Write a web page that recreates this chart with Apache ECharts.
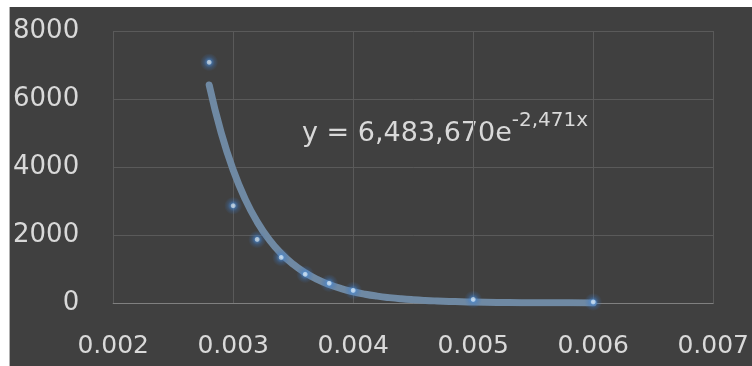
<!DOCTYPE html>
<html>
<head>
<meta charset="utf-8">
<script src="https://cdn.jsdelivr.net/npm/echarts@6/dist/echarts.min.js"></script>
<style>
html,body{margin:0;padding:0;background:#ffffff;width:752px;height:366px;overflow:hidden;}
#chart{position:absolute;left:9px;top:7px;width:743px;height:359px;border-left:1px solid #b0b0b0;box-sizing:border-box;}
</style>
</head>
<body>
<div id="chart"></div>
<script>
// Observed data points (x, y)
var pointX = [0.0028, 0.0030, 0.0032, 0.0034, 0.0036, 0.0038, 0.0040, 0.0050, 0.0060];
var pointY = [7080, 2860, 1870, 1340, 845, 580, 370, 105, 30];

// Exponential trendline values (y = 6,483,670e^-2,471x)
var trendX = [0.0028, 0.0029, 0.0030, 0.0031, 0.0032, 0.0033, 0.0034, 0.0035, 0.0036, 0.0037,
              0.0038, 0.0039, 0.0040, 0.0041, 0.0042, 0.0043, 0.0044, 0.0045, 0.0046, 0.0047,
              0.0048, 0.0049, 0.0050, 0.0052, 0.0054, 0.0056, 0.0058, 0.0060];
var trendY = [6412, 5008, 3912, 3055, 2387, 1864, 1456, 1137, 888, 694,
              542, 423, 331, 258, 202, 158, 123, 96, 75, 59,
              46, 36, 28, 17, 10, 6, 4, 2];

// Axis ticks
var xTicks = [0.002, 0.003, 0.004, 0.005, 0.006, 0.007];
var yTicks = [0, 2000, 4000, 6000, 8000];

var equationMain = 'y = 6,483,670e';
var equationSup = '-2,471x';

var chart = echarts.init(document.getElementById('chart'), null, {renderer: 'canvas'});

var pts = pointX.map(function (x, i) { return [x, pointY[i]]; });
var trend = trendX.map(function (x, i) { return [x, trendY[i]]; });

var labelColor = '#d9d9d9';
var font = 'DejaVu Sans';

chart.setOption({
  backgroundColor: '#404040',
  animation: false,
  grid: {left: 102, right: 36, top: 24, bottom: 63, containLabel: false},
  xAxis: {
    type: 'value',
    min: xTicks[0],
    max: xTicks[xTicks.length - 1],
    interval: 0.001,
    axisLine: {show: true, lineStyle: {color: '#808080', width: 1}},
    axisTick: {show: false},
    splitLine: {show: true, lineStyle: {color: '#5a5a5a', width: 1}},
    axisLabel: {
      color: labelColor, fontFamily: font, fontSize: 25, margin: 31,
      formatter: function (v) { return v.toFixed(3); }
    }
  },
  yAxis: {
    type: 'value',
    min: yTicks[0],
    max: yTicks[yTicks.length - 1],
    interval: 2000,
    axisLine: {show: false},
    axisTick: {show: false},
    splitLine: {show: true, lineStyle: {color: '#5a5a5a', width: 1}},
    axisLabel: {
      color: labelColor, fontFamily: font, fontSize: 26, margin: 34,
      formatter: function (v) { return String(v); }
    }
  },
  series: [
    {
      type: 'line',
      data: trend,
      smooth: true,
      symbol: 'none',
      lineStyle: {color: '#6f89a3', width: 7, cap: 'round', join: 'round'},
      z: 2
    },
    {
      type: 'scatter',
      data: pts,
      symbol: 'circle',
      symbolSize: 18,
      itemStyle: {
        color: {
          type: 'radial', x: 0.5, y: 0.5, r: 0.5,
          colorStops: [
            {offset: 0, color: '#e4f2ff'},
            {offset: 0.22, color: '#bcdcfb'},
            {offset: 0.32, color: 'rgba(70,135,210,0.75)'},
            {offset: 0.6, color: 'rgba(60,120,195,0.35)'},
            {offset: 1, color: 'rgba(60,120,195,0)'}
          ]
        }
      },
      z: 3
    }
  ],
  graphic: [
    {
      type: 'text',
      left: 292,
      top: 104,
      style: {
        text: '{m|' + equationMain + '}{s|' + equationSup + '}',
        rich: {
          m: {fontFamily: font, fontSize: 27, fill: labelColor, color: labelColor, verticalAlign: 'bottom', lineHeight: 36},
          s: {fontFamily: font, fontSize: 20, fill: labelColor, color: labelColor, verticalAlign: 'top', lineHeight: 36, padding: [0, 0, 10, 0]}
        }
      }
    }
  ]
});
</script>
</body>
</html>
